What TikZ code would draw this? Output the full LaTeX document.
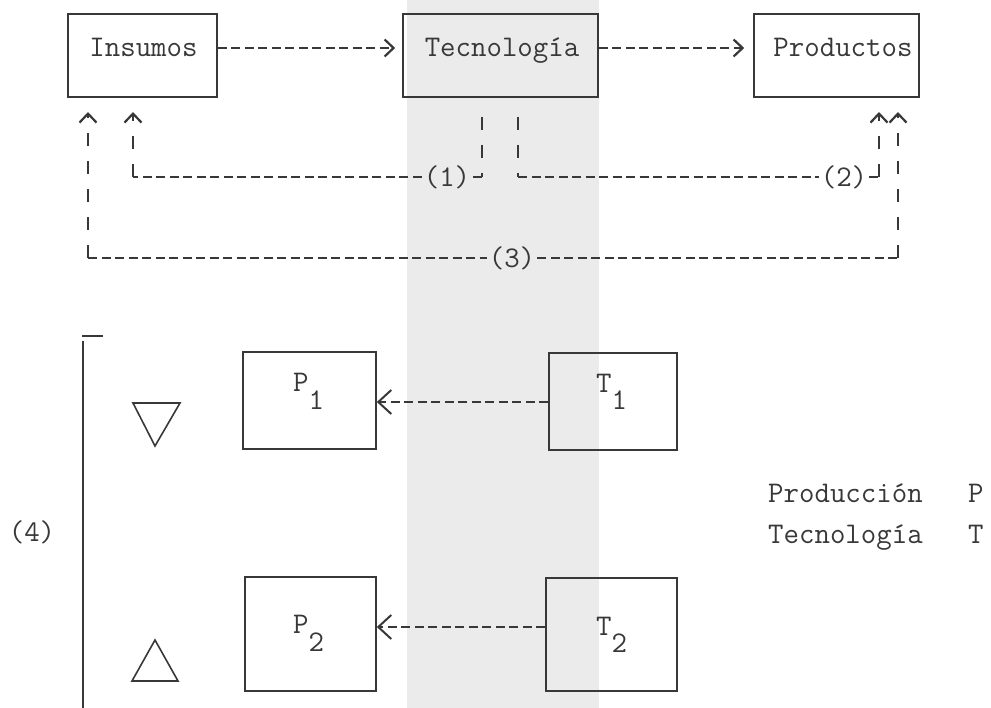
\documentclass[tikz,border=0pt]{standalone}
\usepackage{fontspec}
\usetikzlibrary{arrows.meta}
\definecolor{ink}{gray}{0.22}
\definecolor{band}{gray}{0.92}
\newcommand\typefont{\fontsize{30}{34}\selectfont\ttfamily\addfontfeature{FakeBold=1.5}}
\tikzset{
  box/.style={draw=ink, line width=1.6pt, inner sep=0pt},
  txt/.style={text=ink, font=\typefont, inner sep=0pt, anchor=base},
  lbl/.style={text=ink, font=\typefont, inner sep=2pt},
  hdash/.style={draw=ink, line width=1.6pt, dash pattern=on 9pt off 4.5pt},
  vdash/.style={draw=ink, line width=1.6pt, dash pattern=on 13pt off 15pt},
  solidline/.style={draw=ink, line width=1.6pt},
  tipS/.style={-{Straight Barb[length=9pt,width=17pt,line width=2.2pt]}},
  tipL/.style={-{Straight Barb[length=13pt,width=24pt,line width=2pt]}},
}
\begin{document}
\begin{tikzpicture}[x=1pt,y=-1pt]
\useasboundingbox (0,0) rectangle (991,708);
% shaded strip across the middle of the sheet
\fill[band] (407,0) rectangle (599,708);

% ---- upper scheme: inputs, technology, products
\node[box, minimum width=149pt, minimum height=83pt] (ins) at (142.5,55.5) {};
\node[box, minimum width=195pt, minimum height=83pt] (tec) at (500.5,55.5) {};
\node[box, minimum width=165pt, minimum height=83pt] (pro) at (836.5,55.5) {};
\node[txt] (insT) at (143.5,57) {Insumos};
\node[txt] (tecT) at (502,57) {Tecnología};
\node[txt] (proT) at (843,57) {Productos};

\draw[hdash, tipS, shorten >=7pt] (ins.east |- 0,48) -- (tec.west |- 0,48);
\draw[hdash, tipS, shorten >=9pt] (tec.east |- 0,48) -- (pro.west |- 0,48);

% feedback paths
\coordinate (i1) at (88,112);
\coordinate (i2) at (133,112);
\coordinate (p1) at (879,112);
\coordinate (p2) at (898,112);
\coordinate (t1) at (482,117);
\coordinate (t2) at (518,117);
\coordinate (k1) at (482,177);
\coordinate (k2) at (518,177);
\coordinate (k3) at (133,177);
\coordinate (k4) at (879,177);
\coordinate (m1) at (88,258);
\coordinate (m2) at (898,258);

\node[lbl] (l1) at (447,177) {(1)};
\node[lbl] (l2) at (844,177) {(2)};
\node[lbl] (l3) at (512,258) {(3)};

% (1) technology back to inputs
\draw[vdash] (t1) -- (k1);
\draw[hdash] (k1) -- (l1.east);
\draw[hdash] (l1.west) -- (k3);
\draw[vdash, tipS] (k3) -- (i2);

% (2) technology to products
\draw[vdash] (t2) -- (k2);
\draw[hdash] (k2) -- (l2.west);
\draw[hdash] (l2.east) -- (k4);
\draw[vdash, tipS] (k4) -- (p1);

% (3) inputs and products
\draw[vdash, tipS] (m1) -- (i1);
\draw[hdash] (m1) -- (l3.west);
\draw[hdash] (l3.east) -- (m2);
\draw[vdash, tipS] (m2) -- (p2);

% ---- lower scheme
\draw[solidline] (82,336) -- (103,336);
\draw[solidline] (83,341) -- (83,708);
\node[lbl] (four) at (32,532) {(4)};

\draw[solidline, line join=miter] (133,403) -- (180,403) -- (155,446) -- cycle;
\draw[solidline, line join=miter] (155,640) -- (178,681) -- (132,681) -- cycle;

\node[box, minimum width=133pt, minimum height=97pt] (P1) at (309.5,400.5) {};
\node[box, minimum width=131pt, minimum height=114pt] (P2) at (310.5,634) {};
\node[box, minimum width=128pt, minimum height=97pt] (T1) at (613,401.5) {};
\node[box, minimum width=131pt, minimum height=113pt] (T2) at (611.5,634.5) {};

\node[txt, anchor=base west] (P1T) at (293,392) {P\raisebox{-18pt}{1}};
\node[txt, anchor=base west] (P2T) at (293,633) {P\raisebox{-18pt}{2}};
\node[txt, anchor=base west] (T1T) at (596,393) {T\raisebox{-17pt}{1}};
\node[txt, anchor=base west] (T2T) at (596,635) {T\raisebox{-17pt}{2}};

\draw[hdash, tipL] (T1.west |- 0,402) -- (P1.east |- 0,402);
\draw[hdash, tipL] (T2.west |- 0,627) -- (P2.east |- 0,627);

% key
\node[txt, anchor=base west] (kp) at (768,502) {Producción};
\node[txt, anchor=base west] (kpP) at (968,502) {P};
\node[txt, anchor=base west] (kt) at (768,543) {Tecnología};
\node[txt, anchor=base west] (ktT) at (968,543) {T};
\end{tikzpicture}
\end{document}
